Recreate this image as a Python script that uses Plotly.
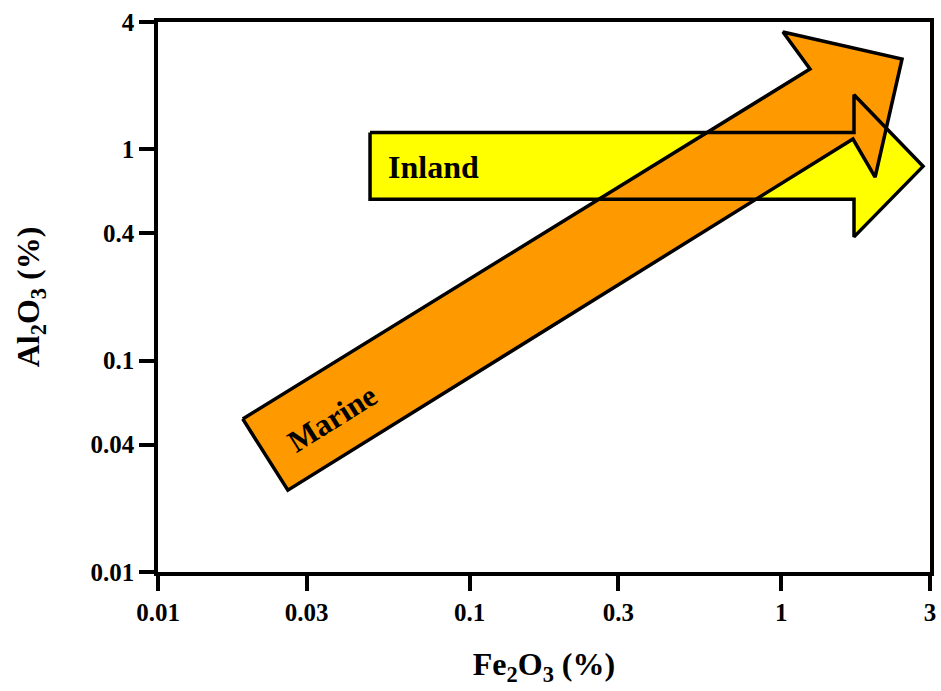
import math
import plotly.graph_objects as go

# Axis ticks
x_ticks = [0.01, 0.03, 0.1, 0.3, 1, 3]
x_tick_labels = ["0.01", "0.03", "0.1", "0.3", "1", "3"]
y_ticks = [0.01, 0.04, 0.1, 0.4, 1, 4]
y_tick_labels = ["0.01", "0.04", "0.1", "0.4", "1", "4"]

# Arrow outlines (data units, Fe2O3 % vs Al2O3 %)
inland_x = [0.0479, 1.711, 1.711, 2.85, 1.711, 1.711, 0.0479, 0.0479]
inland_y = [1.20, 1.20, 1.81, 0.83, 0.385, 0.58, 0.58, 1.20]
marine_x = [0.0187, 1.236, 1.0125, 2.44, 2.00, 1.698, 0.0261, 0.0187]
marine_y = [0.0530, 2.397, 3.587, 2.673, 0.739, 1.118, 0.0244, 0.0530]

# Label positions (data units)
inland_label = (0.0763, 0.824)
marine_label = (0.0362, 0.0535)

FONT = "Liberation Serif"
ORANGE = "#FF9900"
YELLOW = "#FFFF00"

fig = go.Figure()
# fills first
fig.add_trace(go.Scatter(x=inland_x, y=inland_y, mode="lines", fill="toself",
                         fillcolor=YELLOW, line=dict(width=0, color=YELLOW),
                         hoverinfo="skip", showlegend=False))
fig.add_trace(go.Scatter(x=marine_x, y=marine_y, mode="lines", fill="toself",
                         fillcolor=ORANGE, line=dict(width=0, color=ORANGE),
                         hoverinfo="skip", showlegend=False))
# outlines on top
fig.add_trace(go.Scatter(x=inland_x, y=inland_y, mode="lines",
                         line=dict(width=3.5, color="black"),
                         hoverinfo="skip", showlegend=False))
fig.add_trace(go.Scatter(x=marine_x, y=marine_y, mode="lines",
                         line=dict(width=3.5, color="black"),
                         hoverinfo="skip", showlegend=False))

fig.add_annotation(x=math.log10(inland_label[0]), y=math.log10(inland_label[1]),
                   text="<b>Inland</b>", showarrow=False,
                   font=dict(family=FONT, size=32, color="black"))
fig.add_annotation(x=math.log10(marine_label[0]), y=math.log10(marine_label[1]),
                   text="<b>Marine</b>", showarrow=False, textangle=-32,
                   font=dict(family=FONT, size=31, color="black"))

axis_common = dict(
    type="log", showgrid=False, zeroline=False, automargin=False,
    showline=True, linecolor="black", linewidth=3.5, mirror=True,
    ticks="outside", ticklen=15, tickwidth=3.5, tickcolor="black",
    tickfont=dict(family=FONT, size=25, color="black"),
)

fig.update_xaxes(range=[math.log10(0.01), math.log10(3)],
                 tickvals=x_ticks, ticktext=["<b>%s</b>" % t for t in x_tick_labels],
                 title=dict(text="<b>Fe<sub>2</sub>O<sub>3</sub> (%)</b>", standoff=29,
                            font=dict(family=FONT, size=32, color="black")),
                 **axis_common)
fig.update_yaxes(range=[math.log10(0.01), math.log10(4)],
                 tickvals=y_ticks, ticktext=["<b>%s</b>" % t for t in y_tick_labels],
                 title=dict(text="<b>Al<sub>2</sub>O<sub>3</sub> (%)</b>", standoff=42,
                            font=dict(family=FONT, size=32, color="black")),
                 **axis_common)

fig.update_layout(
    width=941, height=691,
    margin=dict(l=158, r=11, t=22, b=119),
    plot_bgcolor="white", paper_bgcolor="white",
)

# remove the default 8px page margin so the figure fills the window exactly
fig.write_html("out.html",
               config={"displayModeBar": False},
               post_script="document.body.style.margin='0';"
                           "document.body.style.overflow='hidden';")
